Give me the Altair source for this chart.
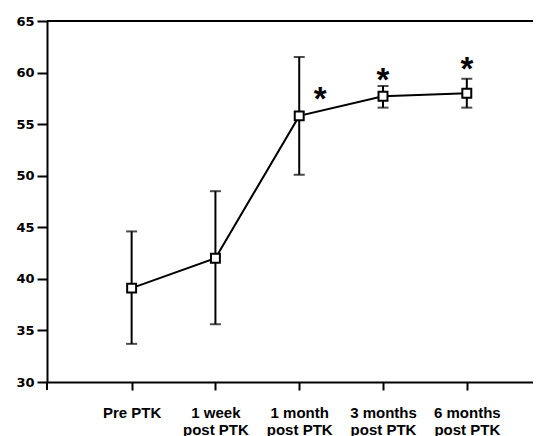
import json
import altair as alt
import pandas as pd

# ---- data ----
categories = ["Pre PTK", "1 week|post PTK", "1 month|post PTK", "3 months|post PTK", "6 months|post PTK"]
positions = [0, 1, 2, 3, 4]
means = [39.1, 42.0, 55.8, 57.7, 58.0]
upper = [44.6, 48.5, 61.5, 58.7, 59.4]
lower = [33.7, 35.6, 50.1, 56.6, 56.6]

star_pos = [2.25, 3, 4]
star_val = [58.2, 60.0, 61.05]

y_ticks = [30, 35, 40, 45, 50, 55, 60, 65]

df = pd.DataFrame({"pos": positions, "mean": means, "hi": upper, "lo": lower})
stars = pd.DataFrame({"pos": star_pos, "val": star_val, "t": ["*"] * len(star_pos)})

W = 486
H = 361

label_expr = "split(" + json.dumps(categories) + "[datum.value], '|')"

xscale = alt.Scale(domain=[-1.01, 4.79], nice=False, zero=False)
yscale = alt.Scale(domain=[30, 65], nice=False, zero=False)

x_axis = alt.Axis(
    values=positions, labelExpr=label_expr, title=None, grid=False,
    tickSize=8, tickWidth=2, tickColor="black", domainWidth=2, domainColor="black",
    labelPadding=15, labelFont="Liberation Sans", labelFontSize=15, labelFontWeight="bold",
    labelLineHeight=17, labelColor="black",
)
y_axis = alt.Axis(
    values=y_ticks, title=None, grid=False,
    tickSize=10, tickWidth=2, tickColor="black", domainWidth=2, domainColor="black",
    labelPadding=3, labelFont="DejaVu Sans", labelFontSize=13, labelFontWeight="bold",
    labelColor="black",
)

base = alt.Chart(df)

x_enc = alt.X("pos:Q", scale=xscale, axis=x_axis)

bars = base.mark_rule(color="black", strokeWidth=2).encode(
    x=x_enc, y=alt.Y("lo:Q", scale=yscale, axis=y_axis), y2="hi:Q"
)
cap_hi = base.mark_tick(color="black", thickness=2, size=11, orient="horizontal").encode(
    x="pos:Q", y="hi:Q"
)
cap_lo = base.mark_tick(color="black", thickness=2, size=11, orient="horizontal").encode(
    x="pos:Q", y="lo:Q"
)
line = base.mark_line(color="black", strokeWidth=2).encode(x="pos:Q", y="mean:Q")
pts = base.mark_point(
    shape="square", size=80, filled=True, fill="white", stroke="black", strokeWidth=2, opacity=1
).encode(x="pos:Q", y="mean:Q")

top_rule = base.mark_rule(color="black", strokeWidth=2).encode(
    y=alt.datum(65), x=alt.value(0), x2=alt.value(W)
)
axis_overhang = base.mark_rule(color="black", strokeWidth=2).encode(
    x=alt.value(0), y=alt.datum(30), y2=alt.value(H + 8)
)

star_text = alt.Chart(stars).mark_text(
    font="Liberation Sans", fontSize=33, fontWeight="bold", color="black",
    baseline="alphabetic", align="center", dy=18.5,
).encode(x="pos:Q", y="val:Q", text="t:N")

chart = alt.layer(bars, cap_hi, cap_lo, line, pts, top_rule, axis_overhang, star_text).properties(
    width=W, height=H,
    autosize=alt.AutoSizeParams(type="none"),
    padding={"left": 39, "top": 13, "right": 0, "bottom": 55},
    background="white",
).configure_view(stroke=None)

chart.save("out.html", embed_options={"renderer": "svg", "actions": False})
